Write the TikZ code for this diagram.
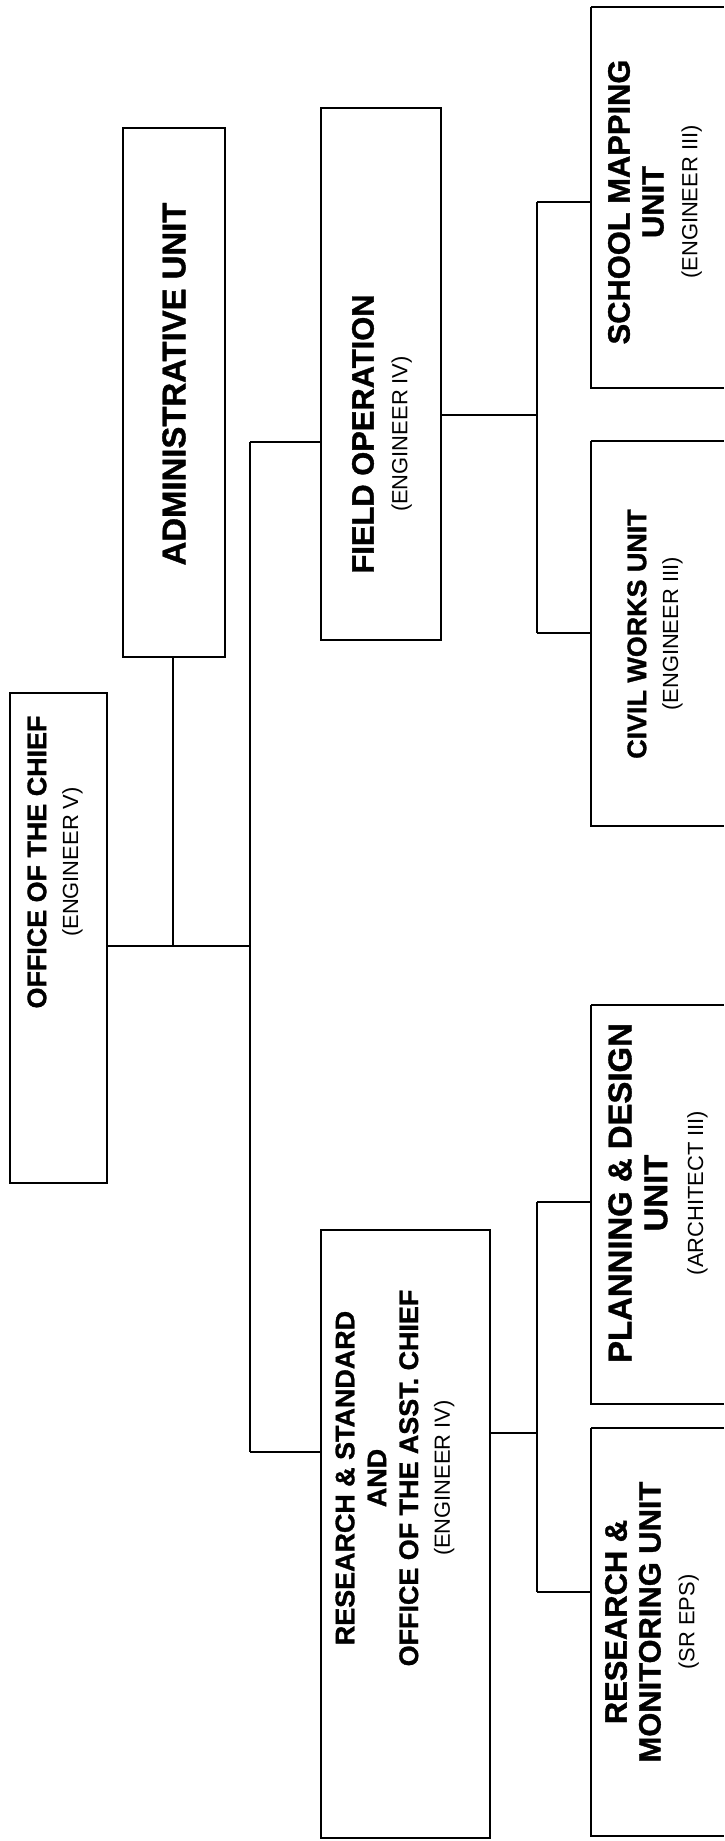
\documentclass[tikz,border=0pt]{standalone}
\usepackage{fontspec}
\setmainfont{Liberation Sans}[BoldFeatures={FakeBold=1.2}]
\newcommand\subt[1]{{\fontsize{22}{24}\selectfont\mdseries #1}}
\begin{document}
\begin{tikzpicture}[x=1bp,y=-1bp,
  box/.style={draw=black,line width=2.6bp},
  conn/.style={draw=black,line width=2.2bp},
  lbl/.style={rotate=90,align=center,inner sep=0pt,font=\fontsize{31}{34}\selectfont\bfseries},
  lblsmall/.style={lbl,font=\fontsize{27}{32}\selectfont\bfseries}
]
\useasboundingbox (0,0) rectangle (725,1841);
\fill[white] (0,0) rectangle (725,1841);
% boxes
\draw[box] (10,693) rectangle (107,1183);
\draw[box] (123,128) rectangle (225,657);
\draw[box] (321,108) rectangle (441,640);
\draw[box] (321,1230) rectangle (490,1838);
\draw[box] (591,7) -- (724,7) (591,7) -- (591,388) -- (724,388);
\draw[box] (591,441) -- (724,441) (591,441) -- (591,826) -- (724,826);
\draw[box] (591,1005) -- (724,1005) (591,1005) -- (591,1404) -- (724,1404);
\draw[box] (591,1428) -- (724,1428) (591,1428) -- (591,1836) -- (724,1836);
% box anchors as named coordinates
\coordinate (chiefE) at (107,946);
\coordinate (adminS) at (173,657);
\coordinate (fieldW) at (321,442);
\coordinate (fieldE) at (441,415);
\coordinate (rsaW) at (321,1452);
\coordinate (rsaE) at (490,1433);
\coordinate (schoolW) at (591,202);
\coordinate (civilW) at (591,633);
\coordinate (planW) at (591,1202);
\coordinate (rmW) at (591,1592);
% bus points
\coordinate (jA) at (173,946);
\coordinate (jB) at (250,946);
\coordinate (busTop) at (250,442);
\coordinate (busBot) at (250,1452);
\coordinate (sfMid) at (537,415);
\coordinate (sfTop) at (537,202);
\coordinate (sfBot) at (537,633);
\coordinate (srMid) at (537,1433);
\coordinate (srTop) at (537,1202);
\coordinate (srBot) at (537,1592);
% connectors
\draw[conn] (chiefE) -- (jA) -- (jB);
\draw[conn] (jA) -- (adminS);
\draw[conn] (busTop) -- (busBot);
\draw[conn] (busTop) -- (fieldW);
\draw[conn] (busBot) -- (rsaW);
\draw[conn] (fieldE) -- (sfMid);
\draw[conn] (sfTop) -- (sfBot);
\draw[conn] (sfTop) -- (schoolW);
\draw[conn] (sfBot) -- (civilW);
\draw[conn] (rsaE) -- (srMid);
\draw[conn] (srTop) -- (srBot);
\draw[conn] (srTop) -- (planW);
\draw[conn] (srBot) -- (rmW);
% labels
\node[lblsmall] (tchief) at (55,862) {OFFICE OF THE CHIEF\\\subt{(ENGINEER V)}};
\node[lbl,font=\fontsize{33}{36}\selectfont\bfseries] (tadmin) at (174,384) {ADMINISTRATIVE UNIT};
\node[lbl] (tfield) at (382,434) {FIELD OPERATION\\\subt{(ENGINEER IV)}};
\node[lblsmall] (trsa) at (395,1478) {RESEARCH \& STANDARD\\AND\\OFFICE OF THE ASST. CHIEF\\\subt{(ENGINEER IV)}};
\node[lbl] (tschool) at (655,202) {SCHOOL MAPPING\\UNIT\\\subt{(ENGINEER III)}};
\node[lblsmall] (tcivil) at (655,634) {CIVIL WORKS UNIT\\\subt{(ENGINEER III)}};
\node[lbl,font=\fontsize{33}{36}\selectfont\bfseries] (tplan) at (658,1193) {PLANNING \& DESIGN\\UNIT\\\subt{(ARCHITECT III)}};
\node[lbl] (trm) at (652,1622) {RESEARCH \&\\MONITORING UNIT\\\subt{(SR EPS)}};
\end{tikzpicture}
\end{document}
